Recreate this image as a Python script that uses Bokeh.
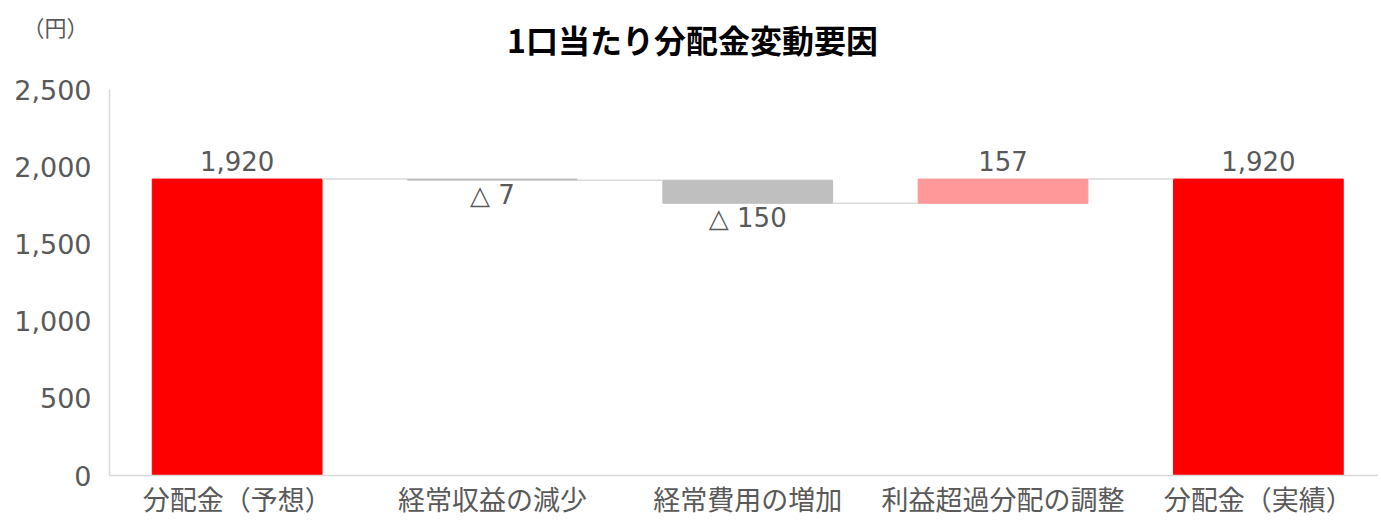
from bokeh.plotting import figure
from bokeh.models import Range1d, FixedTicker, NumeralTickFormatter, Label, ColumnDataSource
from bokeh.core.properties import value
from bokeh.embed import file_html
from bokeh.resources import INLINE

# ---- data ----
categories = ["分配金（予想）", "経常収益の減少", "経常費用の増加", "利益超過分配の調整", "分配金（実績）"]
values = [1920, -7, -150, 157, 1920]
kinds = ["total", "delta", "delta", "delta", "total"]
colors = ["#FF0000", "#BFBFBF", "#BFBFBF", "#FF9999", "#FF0000"]
y_ticks = [0, 500, 1000, 1500, 2000, 2500]
title_text = "1口当たり分配金変動要因"
unit_text = "（円）"

# ---- waterfall geometry from data ----
xs = list(range(len(categories)))
bottoms, tops, ends = [], [], []
running = 0
for v, k in zip(values, kinds):
    if k == "total":
        b, t = 0, v
        running = v
    else:
        b, t = min(running, running + v), max(running, running + v)
        running += v
    bottoms.append(b)
    tops.append(t)
    ends.append(running)

def fmt(v, k):
    if k == "delta" and v < 0:
        return "△ " + f"{abs(v):,}"
    return f"{v:,}"

labels = [fmt(v, k) for v, k in zip(values, kinds)]

W, H = 1378, 518
LEFT = 109
PX_PER_CAT = 255.3
PX_PER_UNIT = 385 / 2500
x_end = -0.5 + (W - LEFT) / PX_PER_CAT
p = figure(width=W, height=H, output_backend="svg", toolbar_location=None,
           x_range=Range1d(-0.5, x_end), y_range=Range1d(0, 2500),
           min_border_left=LEFT, min_border_right=0, min_border_top=89, min_border_bottom=43)
p.outline_line_color = None
p.xgrid.visible = False
p.ygrid.visible = False
p.background_fill_color = "white"

bar_w = 0.665
p.vbar(x=xs, bottom=bottoms, top=tops, width=bar_w, fill_color=colors, line_color=colors, line_width=1)

# connectors
for i in range(len(xs) - 1):
    p.line(x=[xs[i] + bar_w / 2, xs[i + 1] - bar_w / 2], y=[ends[i], ends[i]],
           line_color="#D9D9D9", line_width=1.5)

above_idx = [i for i, (v, k) in enumerate(zip(values, kinds)) if not (k == "delta" and v < 0)]
below_idx = [i for i in range(len(xs)) if i not in above_idx]

src_above = ColumnDataSource(dict(x=[xs[i] for i in above_idx], y=[tops[i] for i in above_idx],
                                  t=[labels[i] for i in above_idx]))
src_below = ColumnDataSource(dict(x=[xs[i] for i in below_idx], y=[bottoms[i] for i in below_idx],
                                  t=[labels[i] for i in below_idx]))
p.text(x="x", y="y", text="t", source=src_above, text_align="center", text_baseline="bottom",
       y_offset=-8, text_font=value("DejaVu Sans"), text_font_size="26px", text_color="#595959")
p.text(x="x", y="y", text="t", source=src_below, text_align="center", text_baseline="top",
       y_offset=0, text_font=value("DejaVu Sans"), text_font_size="26px", text_color="#595959")

# axes
p.xaxis.ticker = FixedTicker(ticks=xs)
p.xaxis.major_label_overrides = {i: c for i, c in zip(xs, categories)}
p.xaxis.major_label_text_font = "DejaVu Sans, Noto Sans CJK JP"
p.xaxis.major_label_text_font_size = "27px"
p.xaxis.major_label_text_color = "#595959"
p.xaxis.major_label_standoff = 9
p.xaxis.major_tick_line_color = None
p.xaxis.major_tick_out = 0
p.xaxis.minor_tick_out = 0
p.xaxis.minor_tick_line_color = None
p.xaxis.axis_line_color = "#D9D9D9"
p.xaxis.axis_line_width = 1.5

p.yaxis.ticker = FixedTicker(ticks=y_ticks)
p.yaxis.formatter = NumeralTickFormatter(format="0,0")
p.yaxis.major_label_text_font = "DejaVu Sans"
p.yaxis.major_label_text_font_size = "27px"
p.yaxis.major_label_text_color = "#595959"
p.yaxis.major_label_standoff = 18
p.yaxis.major_tick_line_color = None
p.yaxis.major_tick_out = 0
p.yaxis.minor_tick_out = 0
p.yaxis.minor_tick_line_color = None
p.yaxis.axis_line_color = "#D9D9D9"
p.yaxis.axis_line_width = 1.5

# title and unit (placed in the top panel so they are not clipped to the frame)
def px_to_x(px):
    return (px - LEFT) / PX_PER_CAT - 0.5

def py_to_y(py):
    return (475 - py) / PX_PER_UNIT

p.add_layout(Label(x=px_to_x(692), y=py_to_y(40), text=title_text, text_align="center",
                   text_baseline="middle", text_font="Noto Sans CJK JP", text_font_style="bold",
                   text_font_size="32px", text_color="#000000"), "above")
p.add_layout(Label(x=px_to_x(55), y=py_to_y(27), text=unit_text, text_align="center",
                   text_baseline="middle", text_font="Noto Sans CJK JP", text_font_size="22px",
                   text_color="#595959"), "above")

open("out.html", "w").write(file_html(p, INLINE))
